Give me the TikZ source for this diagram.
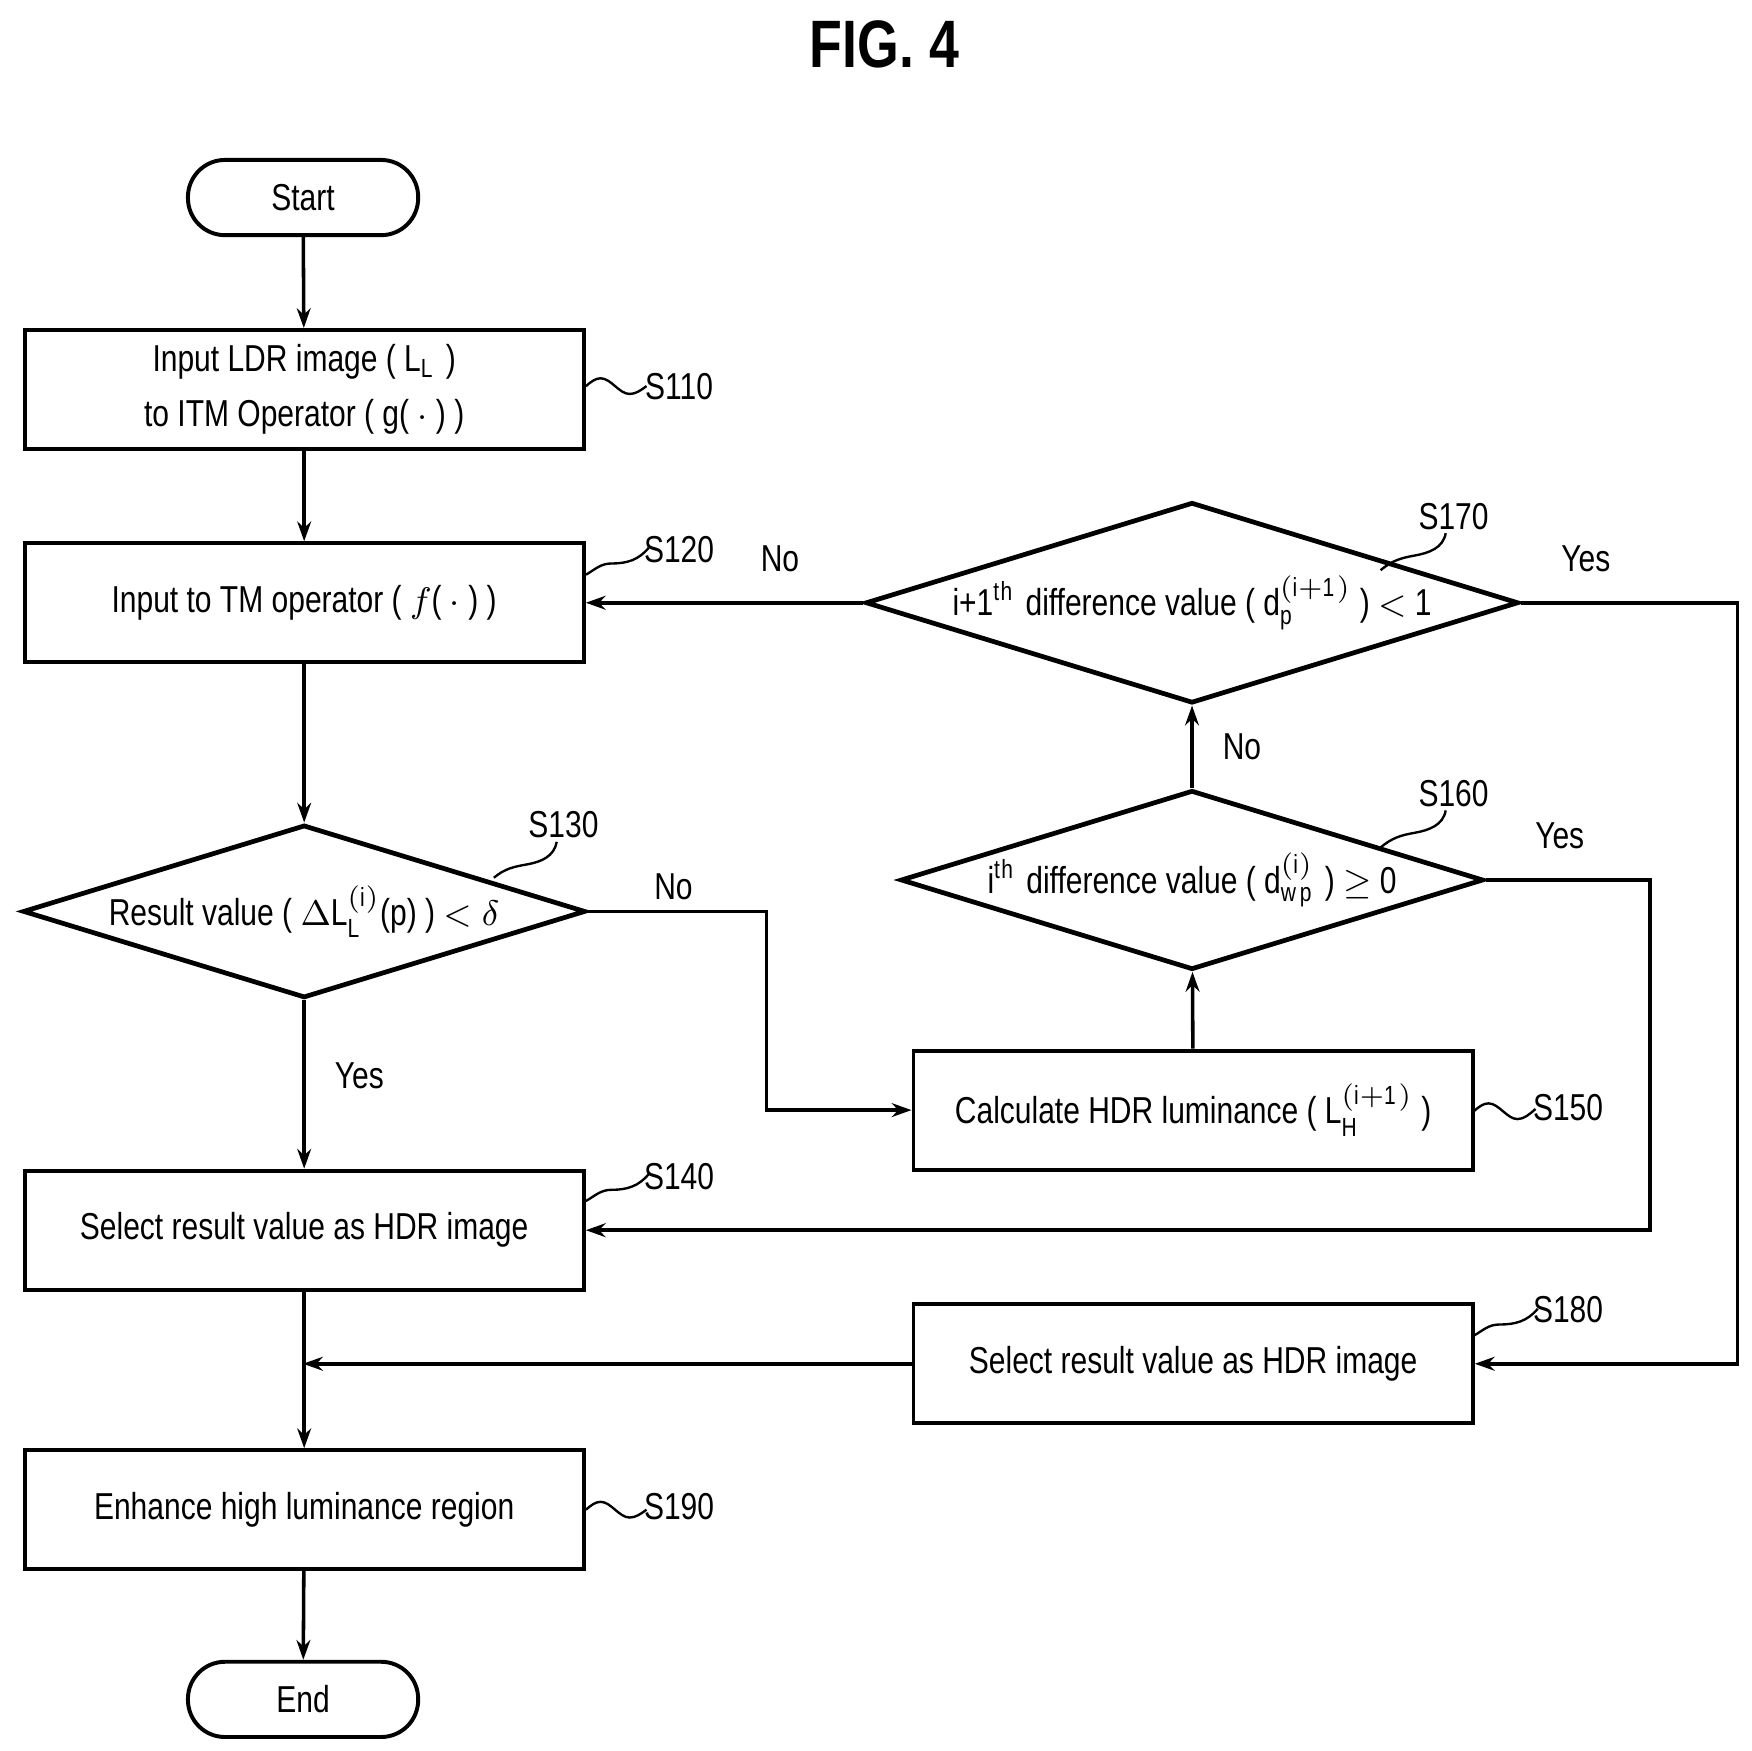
\documentclass[tikz,border=0pt]{standalone}
\usepackage{fontspec}
\setmainfont[FakeStretch=0.8]{Liberation Sans}
\usetikzlibrary{shapes.geometric,arrows.meta}
\begin{document}
\begin{tikzpicture}[x=0.01cm,y=-0.01cm,
  every node/.style={font=\fontsize{9.5}{11}\selectfont},
  box/.style={draw,line width=1pt,minimum width=4.98cm,minimum height=1.06cm,inner sep=0,align=center},
  term/.style={draw,line width=1pt,rounded corners=0.33cm,minimum width=2.05cm,minimum height=0.67cm},
  dia/.style={draw,line width=1.2pt,diamond,aspect=3.25,minimum width=5.01cm,minimum height=1.54cm,inner sep=0},
  ar/.style={line width=0.9pt,-{Stealth[length=5pt,width=3.5pt]}},
  ln/.style={line width=0.9pt},
  lb/.style={line width=0.6pt}]
\useasboundingbox (0,0) rectangle (1560,1560);
\node[font=\fontsize{17}{20}\selectfont\bfseries] (title) at (788,40) {FIG. 4};
\node[term] (start) at (270,176) {Start};
\node[box] (s110) at (271,347) {Input LDR image ( L$_{\mathrm L}$ )\\[3pt] to ITM Operator ( g( $\cdot$ ) )};
\node[box] (s120) at (271,537) {Input to TM operator ( $f$( $\cdot$ ) )};
\node[dia] (s130) at (271,812) {Result value ( $\Delta$L$_{\mathrm L}^{(\mathrm i)}$(p) ) $<\delta$};
\node[box] (s140) at (271,1096) {Select result value as HDR image};
\node[box] (s190) at (271,1345) {Enhance high luminance region};
\node[term] (end) at (270,1514) {End};
\node[dia] (s170) at (1062,537) {i+1$^{\mathrm{th}}$ difference value ( d$_{\mathrm p}^{(\mathrm{i+1})}$ ) $<$ 1};
\node[dia] (s160) at (1062,784) {i$^{\mathrm{th}}$ difference value ( d$_{\mathrm{wp}}^{(\mathrm i)}$ ) $\geq$ 0};
\node[box] (s150) at (1063,989) {Calculate HDR luminance ( L$_{\mathrm H}^{(\mathrm{i+1})}$ )};
\node[box] (s180) at (1063,1215) {Select result value as HDR image};
\coordinate (c1) at (683,812);
\coordinate (c2) at (683,989);
\coordinate (c3) at (1548,537);
\coordinate (c4) at (1548,1215);
\coordinate (c5) at (1470,784);
\coordinate (c6) at (1470,1096);
\coordinate (c7) at (270,1215);
\draw[ar] (start) -- (s110);
\draw[ar] (s110) -- (s120);
\draw[ar] (s120) -- (s130);
\draw[ar] (s130) -- node[right=4pt,pos=0.45]{Yes} (s140);
\draw[ar] (s140) -- (s190);
\draw[ar] (s190) -- (end);
\draw[ar] (s130.east) -- (c1) -- (c2) -- (s150.west);
\node (no1) at (600,790) {No};
\draw[ar] (s150) -- (s160);
\draw[ar] (s160) -- node[right=4pt]{No} (s170);
\draw[ar] (s170.west) -- node[above=4pt,pos=0.3]{No} (s120.east);
\draw[ar] (s170.east) -- node[above=4pt,pos=0.3]{Yes} (c3) -- (c4) -- (s180.east);
\draw[ar] (s160.east) -- node[above=4pt,pos=0.45]{Yes} (c5) -- (c6) -- (s140.east);
\draw[ar] (s180.west) -- (c7);
% step labels
\node (l110) at (605,344) {S110};
\draw[lb] (522,344) sin (535,337) cos (548,344) sin (561,351) cos (576,344);
\node (l120) at (605,490) {S120};
\draw[lb] (522,512) to[out=30,in=180] (545,502) to[out=0,in=230] (578,488);
\node (l130) at (502,735) {S130};
\draw[lb] (440,782) to[out=40,in=190] (470,770) to[out=10,in=260] (496,750);
\node (l140) at (605,1048) {S140};
\draw[lb] (522,1070) to[out=30,in=180] (545,1060) to[out=0,in=230] (578,1046);
\node (l190) at (605,1342) {S190};
\draw[lb] (522,1345) sin (535,1338) cos (548,1345) sin (561,1352) cos (576,1345);
\node (l150) at (1397,987) {S150};
\draw[lb] (1313,990) sin (1326,983) cos (1339,990) sin (1352,997) cos (1368,988);
\node (l160) at (1295,707) {S160};
\draw[lb] (1230,755) to[out=40,in=190] (1260,742) to[out=10,in=260] (1288,722);
\node (l170) at (1295,460) {S170};
\draw[lb] (1230,508) to[out=40,in=190] (1260,495) to[out=10,in=260] (1288,475);
\node (l180) at (1397,1167) {S180};
\draw[lb] (1313,1190) to[out=30,in=180] (1336,1180) to[out=0,in=230] (1370,1166);
\end{tikzpicture}
\end{document}
